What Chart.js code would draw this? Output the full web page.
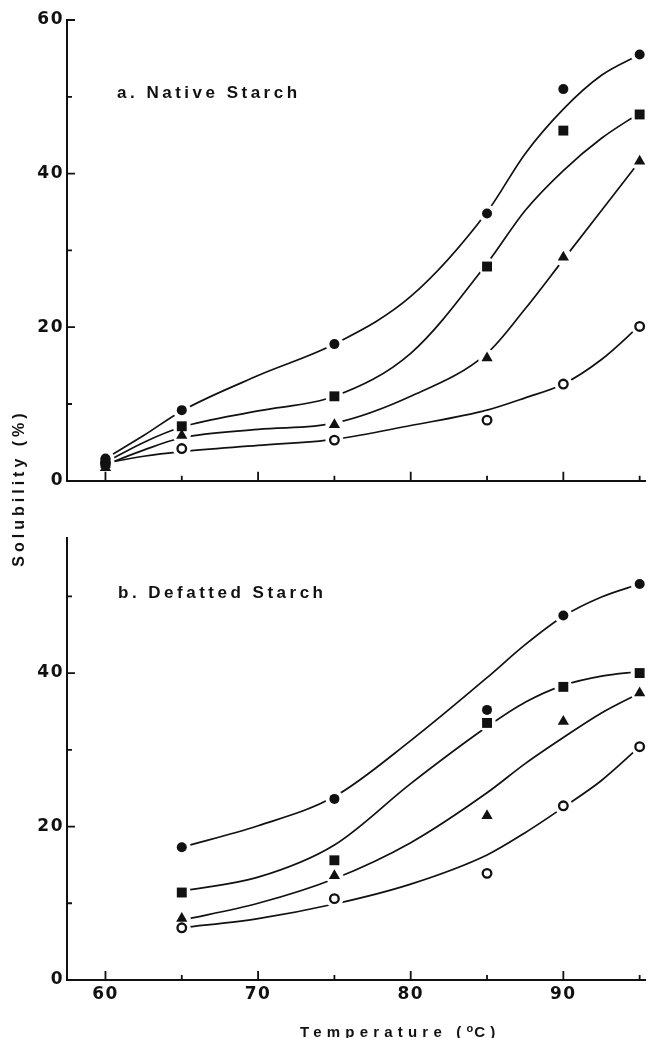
<!DOCTYPE html>
<html>
<head>
<meta charset="utf-8">
<script src="https://cdn.jsdelivr.net/npm/chart.js@4.4.1/dist/chart.umd.min.js"></script>
<style>
  body { margin: 0; background: #fff; }
  #page { position: relative; width: 654px; height: 1038px; overflow: hidden; }
  .panel { position: absolute; left: 0; width: 654px; }
  .txt { position: absolute; font-family: "Liberation Sans", Arial, sans-serif; font-weight: bold; color: #111; white-space: nowrap; }
  .panel-title { font-size: 17px; line-height: 17px; letter-spacing: 3.5px; }
  #ytitle { font-size: 16px; line-height: 18px; letter-spacing: 4px; width: 200px; text-align: center;
            left: -81px; top: 479px; transform: rotate(-90deg); }
  #xtitle { font-size: 15px; line-height: 15px; letter-spacing: 5.2px; left: 300px; top: 1021px; }
  #xtitle sup { font-size: 11px; vertical-align: 5px; letter-spacing: 1px; }
</style>
</head>
<body>
<div id="page">
  <div class="panel" style="top:0;height:494px"><canvas id="native"></canvas></div>
  <div class="panel" style="top:500px;height:538px"><canvas id="defatted"></canvas></div>
  <div class="txt panel-title" style="left:117px;top:84px">a. Native Starch</div>
  <div class="txt panel-title" style="left:118px;top:584px">b. Defatted Starch</div>
  <div class="txt" id="ytitle">Solubility (%)</div>
  <div class="txt" id="xtitle">Temperature (<sup>o</sup>C)</div>
</div>
<script>
// measured points, temperature in °C, solubility in %
const nativeTemps = [60, 65, 75, 85, 90, 95];
const nativeCircle = [2.9, 9.2, 17.8, 34.8, 51.0, 55.5];
const nativeSquare = [2.3, 7.1, 11.0, 27.9, 45.6, 47.7];
const nativeTriangle = [1.7, 5.9, 7.3, 16.0, 29.1, 41.6];
const nativeOpen = [2.3, 4.2, 5.3, 7.9, 12.6, 20.1];

// hand-drawn fitted curves
const nativeCurveTemps = [60, 62.5, 65, 70, 75, 80, 85, 87.5, 90, 92.5, 95];
const nativeCircleFit = [2.9, 5.9, 9.1, 13.7, 17.8, 24.0, 35.0, 42.6, 48.4, 52.8, 55.5];
const nativeSquareFit = [2.4, 5.0, 7.0, 9.1, 11.0, 16.6, 28.3, 35.2, 40.4, 44.6, 47.9];
const nativeTriangleFit = [2.1, 4.0, 5.6, 6.7, 7.5, 11.0, 16.6, 22.4, 28.8, 35.2, 41.6];
const nativeOpenFit = [2.3, 3.2, 3.8, 4.6, 5.4, 7.2, 9.2, 10.8, 12.6, 15.8, 20.2];

const defattedTemps = [65, 75, 85, 90, 95];
const defattedCircle = [17.3, 23.6, 35.2, 47.5, 51.6];
const defattedSquare = [11.4, 15.6, 33.5, 38.2, 40.0];
const defattedTriangle = [8.0, 13.6, 21.4, 33.7, 37.4];
const defattedOpen = [6.8, 10.6, 13.9, 22.7, 30.4];

const defattedCurveTemps = [65, 70, 75, 80, 85, 87.5, 90, 92.5, 95];
const defattedCircleFit = [17.3, 20.1, 23.9, 31.2, 39.4, 43.7, 47.4, 49.9, 51.6];
const defattedSquareFit = [11.6, 13.4, 17.6, 25.6, 33.0, 36.2, 38.4, 39.6, 40.2];
const defattedTriangleFit = [7.8, 10.0, 13.2, 17.9, 24.4, 28.2, 31.6, 34.8, 37.4];
const defattedOpenFit = [6.8, 8.0, 9.9, 12.5, 16.3, 19.2, 22.5, 26.0, 30.4];

const xTickLabels = [60, 70, 80, 90];
const yTickLabels = [0, 20, 40, 60];

const INK = '#111';
const MARKERS = [
  { pointStyle: 'circle', radius: 5, bg: INK, bw: 0 },
  { pointStyle: 'rect', radius: 7, bg: INK, bw: 0 },
  { pointStyle: 'triangle', radius: 6.5, bg: INK, bw: 0 },
  { pointStyle: 'circle', radius: 4.3, bg: '#fff', bw: 2.3 },
];

const pts = (xs, ys) => xs.map((x, i) => ({ x, y: ys[i] }));

function buildDatasets(temps, curveTemps, series) {
  const out = [];
  series.forEach(([vals, fit], i) => {
    const m = MARKERS[i];
    out.push({ data: pts(curveTemps, fit), borderColor: INK, borderWidth: 1.7,
      pointRadius: 0, cubicInterpolationMode: 'monotone', fill: false, order: 3, clip: false });
    // white halo leaves the small gap round each marker, as in the print
    out.push({ data: pts(temps, vals), showLine: false, pointStyle: 'circle', pointRadius: 9,
      pointBackgroundColor: '#fff', pointBorderWidth: 0, order: 2, clip: false });
    out.push({ data: pts(temps, vals), showLine: false, pointStyle: m.pointStyle, pointRadius: m.radius,
      pointBackgroundColor: m.bg, pointBorderColor: INK, pointBorderWidth: m.bw, order: 1, clip: false });
  });
  return out;
}

const inwardTicks = {
  id: 'inwardTicks',
  beforeDraw(chart) { chart.ctx.letterSpacing = '1.5px'; },
  afterDraw(chart) {
    const { ctx, scales: { x, y } } = chart;
    ctx.save();
    ctx.strokeStyle = INK;
    ctx.lineWidth = 1.8;
    ctx.beginPath();
    x.ticks.forEach(t => {
      const px = x.getPixelForValue(t.value);
      const len = t.value % 10 === 0 ? 9 : 5;
      ctx.moveTo(px, x.top); ctx.lineTo(px, x.top - len);
    });
    y.ticks.forEach(t => {
      const py = y.getPixelForValue(t.value);
      const len = t.value % 20 === 0 ? 8 : 5;
      ctx.moveTo(y.right, py); ctx.lineTo(y.right + len, py);
    });
    ctx.stroke();
    ctx.restore();
  }
};

Chart.defaults.font.family = '"DejaVu Sans", sans-serif';
Chart.defaults.font.weight = 'bold';
Chart.defaults.font.size = 17;
Chart.defaults.color = INK;

function makePanel(id, datasets, yMax, padTop, xHeight, showXLabels) {
  return new Chart(document.getElementById(id), {
    type: 'line',
    data: { datasets },
    plugins: [inwardTicks],
    options: {
      responsive: true,
      maintainAspectRatio: false,
      animation: false,
      events: [],
      layout: { padding: { top: padTop, right: 0, left: 0, bottom: 0 } },
      plugins: { legend: { display: false }, tooltip: { enabled: false } },
      scales: {
        x: {
          type: 'linear', min: 57.48, max: 95.35,
          grid: { display: false, drawTicks: false },
          border: { display: true, color: INK, width: 2 },
          ticks: {
            stepSize: 5, includeBounds: false, display: showXLabels, padding: 4, maxRotation: 0,
            autoSkip: false,
            callback: v => xTickLabels.includes(v) ? String(v) : ''
          },
          afterFit: s => { s.height = xHeight; }
        },
        y: {
          min: 0, max: yMax,
          grid: { display: false, drawTicks: false },
          border: { display: true, color: INK, width: 2 },
          ticks: {
            stepSize: 10, includeBounds: false, padding: 3, autoSkip: false,
            callback: v => yTickLabels.includes(v) ? String(v) : ''
          },
          afterFit: s => { s.width = 67; }
        }
      }
    }
  });
}

makePanel('native', buildDatasets(nativeTemps, nativeCurveTemps, [
  [nativeCircle, nativeCircleFit],
  [nativeSquare, nativeSquareFit],
  [nativeTriangle, nativeTriangleFit],
  [nativeOpen, nativeOpenFit],
]), 60, 20, 12, false);

makePanel('defatted', buildDatasets(defattedTemps, defattedCurveTemps, [
  [defattedCircle, defattedCircleFit],
  [defattedSquare, defattedSquareFit],
  [defattedTriangle, defattedTriangleFit],
  [defattedOpen, defattedOpenFit],
]), 57.6, 38, 58, true);
</script>
</body>
</html>
